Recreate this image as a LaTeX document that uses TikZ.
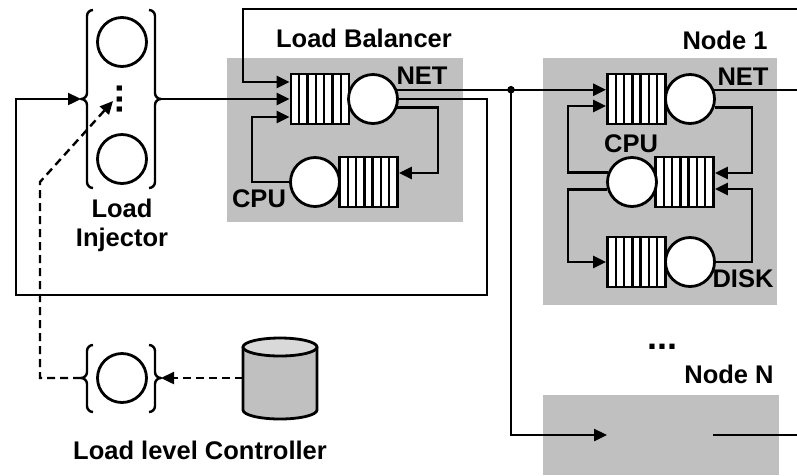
\documentclass[tikz,border=0pt]{standalone}
\usepackage{fontspec}
\setmainfont{Liberation Sans}
\usetikzlibrary{arrows.meta}
\definecolor{boxgray}{RGB}{192,192,192}
\definecolor{topgray}{RGB}{217,217,217}
\begin{document}
\begin{tikzpicture}[x=1pt,y=1pt,
  ln/.style={line width=2.4pt},
  sl/.style={line width=2.8pt},
  arr/.style={ln,-{Triangle[length=13pt,width=12pt]}},
  darr/.style={arr,dash pattern=on 8pt off 5pt},
  graybox/.style={fill=boxgray,draw=none,inner sep=0},
  queue/.style={draw,sl,fill=white,minimum width=58pt,minimum height=50pt,inner sep=0,
     path picture={\foreach \i in {1,...,6}{\draw[line width=2.4pt]([xshift={\i*58/7*1pt}]path picture bounding box.south west) -- ([xshift={\i*58/7*1pt}]path picture bounding box.north west);}}},
  server/.style={circle,draw,sl,fill=white,minimum size=49pt,inner sep=0},
  lbl/.style={font=\fontsize{25.5}{29}\selectfont\bfseries,inner sep=0},
  dotlbl/.style={font=\fontsize{36}{36}\selectfont\bfseries,inner sep=0},
  brace/.style={line width=2.4pt,line join=round}
]
\useasboundingbox (0,0) rectangle (797,-475);

% gray boxes
\node[graybox,minimum width=236pt,minimum height=164pt] (lb) at (345,-140) {};
\node[graybox,minimum width=234pt,minimum height=247pt] (n1) at (660,-181.5) {};
\node[graybox,minimum width=236pt,minimum height=80pt] (nn) at (661,-435) {};

% titles
\node[lbl] (tlb) at (364,-38) {Load Balancer};
\node[lbl] (tn1) at (725,-40) {Node 1};
\node[lbl] (tnn) at (729,-374) {Node N};
\node[dotlbl] (tdots) at (662,-347) {...};
\node[lbl,align=center,anchor=north] (tinj) at (122,-199) {Load\\Injector};
\node[lbl] (tctl) at (200,-450) {Load level Controller};

% load injector
\draw[brace] (93,-10) to[out=180,in=90] (87,-16) -- (87,-93) to[out=-90,in=0] (81,-99) to[out=0,in=90] (87,-105) -- (87,-182) to[out=-90,in=180] (93,-188);
\draw[brace] (149,-10) to[out=0,in=90] (155,-16) -- (155,-93) to[out=-90,in=180] (161,-99) to[out=180,in=90] (155,-105) -- (155,-182) to[out=-90,in=0] (149,-188);
\coordinate (injL) at (81,-99);
\coordinate (injR) at (161,-99);
\node[server] (inj1) at (122,-42) {};
\node[server] (inj2) at (122,-159) {};
\node[dotlbl,rotate=90] (idots) at (120,-99) {...};
\coordinate (injdots) at (113,-101);

% load level controller
\draw[brace] (93,-345) to[out=180,in=90] (87,-351) -- (87,-372) to[out=-90,in=0] (81,-378) to[out=0,in=90] (87,-384) -- (87,-406) to[out=-90,in=180] (93,-412);
\draw[brace] (149,-345) to[out=0,in=90] (155,-351) -- (155,-372) to[out=-90,in=180] (161,-378) to[out=180,in=90] (155,-384) -- (155,-406) to[out=-90,in=0] (149,-412);
\coordinate (ctlL) at (81,-378);
\coordinate (ctlR) at (161,-378);
\node[server] (ctl) at (122,-378) {};

% database cylinder
\draw[sl,fill=boxgray] (243,-347) -- (243,-410) arc[start angle=180,end angle=360,x radius=37,y radius=9] -- (317,-347);
\draw[sl,fill=topgray] (280,-347) ellipse[x radius=37,y radius=9];
\coordinate (db) at (243,-378);

% load balancer stations
\node[queue] (lbq) at (320,-99) {};
\node[server] (lbnet) at (373,-99) {};
\node[queue] (lbcpuq) at (368.5,-182) {};
\node[server] (lbcpu) at (315,-182) {};
\node[lbl] (tlbnet) at (422,-76) {NET};
\node[lbl] (tlbcpu) at (259,-199) {CPU};

% node 1 stations
\node[queue] (n1q) at (636.5,-99) {};
\node[server] (n1net) at (690,-99) {};
\node[queue] (n1cpuq) at (684.5,-182) {};
\node[server] (n1cpu) at (632,-182) {};
\node[queue] (diskq) at (636.5,-262) {};
\node[server] (disk) at (690,-262) {};
\node[lbl] (tn1net) at (743,-77) {NET};
\node[lbl] (tn1cpu) at (631,-144) {CPU};
\node[lbl] (tdisk) at (743,-279) {DISK};

% helper coordinates
\coordinate (jx) at (511,0);
\coordinate (j) at (lbnet.21.5 -| jx);
\coordinate (r1) at (797,0);
\coordinate (t0) at (797,-9);
\coordinate (t1) at (243,-82);
\coordinate (rA) at (487,-295);
\coordinate (rB) at (16,-99);
\coordinate (lA) at (438,-173);
\coordinate (lB) at (252,-117);
\coordinate (xA) at (752,-173);
\coordinate (xB) at (568,-106);
\coordinate (xC) at (568,-262);
\coordinate (xD) at (752,-189);
\coordinate (nNin) at (607,-435);
\coordinate (nNout) at (713,-435);
\coordinate (nNend) at (797,-435);
\coordinate (dA) at (40,-182);

% connectors: load balancer
\draw[arr] (t0) -| (t1) -- (t1 -| lbq.west);
\draw[arr] (injR) -- (injR -| lbq.west);
\draw[arr] (lbcpu.west) -| (lB) -- (lB -| lbq.west);
\draw[arr] (lbnet.-19) -| (lA) -- (lA -| lbcpuq.east);
\draw[arr] (lbnet.east) -| (rA) -| (rB) -- (injL);
\draw[ln] (lbnet.21.5) -- (j);
\fill (j) circle (3.8pt);

% connectors: node 1
\draw[arr] (j) -- (j -| n1q.west);
\draw[ln] (n1net.21.5) -- (n1net.21.5 -| r1);
\draw[arr] (n1net.-19) -| (xA) -- (xA -| n1cpuq.east);
\draw[arr] (n1cpu.158) -| (xB) -- (xB -| n1q.west);
\draw[arr] (n1cpu.197) -| (xC) -- (xC -| diskq.west);
\draw[arr] (disk.east) -| (xD) -- (xD -| n1cpuq.east);

% connectors: node N
\draw[arr] (j) |- (nNin);
\draw[ln] (nNout) -- (nNend);

% controller connectors (dashed)
\draw[darr] (db) -- (ctlR);
\draw[darr] (ctlL) -| (dA) -- (injdots);
\end{tikzpicture}
\end{document}
